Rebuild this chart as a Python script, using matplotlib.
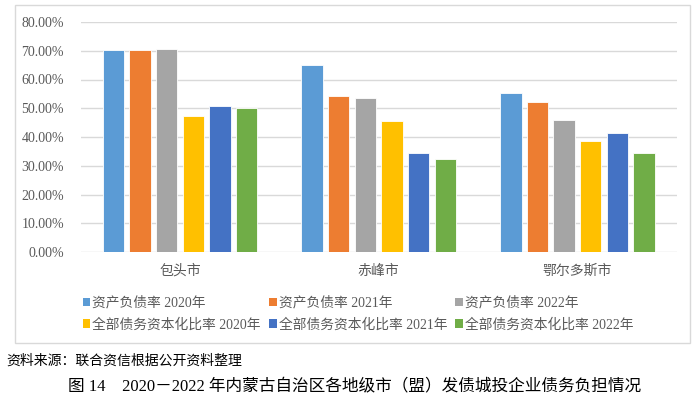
import matplotlib
matplotlib.use('Agg')
import matplotlib.pyplot as plt
from matplotlib.patches import Rectangle, Patch
from matplotlib.ticker import FuncFormatter
import numpy as np

plt.rcParams['font.family'] = ['Liberation Serif', 'Noto Sans CJK SC', 'DejaVu Sans']

# data (ratios)
cities = ['包头市', '赤峰市', '鄂尔多斯市']
series_names = ['资产负债率 2020年', '资产负债率 2021年', '资产负债率 2022年',
                '全部债务资本化比率 2020年', '全部债务资本化比率 2021年', '全部债务资本化比率 2022年']
debt_ratio_2020 = [0.703, 0.652, 0.554]
debt_ratio_2021 = [0.703, 0.544, 0.523]
debt_ratio_2022 = [0.707, 0.535, 0.458]
cap_ratio_2020 = [0.472, 0.457, 0.387]
cap_ratio_2021 = [0.509, 0.343, 0.414]
cap_ratio_2022 = [0.502, 0.325, 0.344]
yticks = [0, 0.1, 0.2, 0.3, 0.4, 0.5, 0.6, 0.7, 0.8]

source_note = '资料来源：联合资信根据公开资料整理'
caption = '图 14\u30002020－2022 年内蒙古自治区各地级市（盟）发债城投企业债务负担情况'

colors = ['#5B9BD5', '#ED7D31', '#A5A5A5', '#FFC000', '#4472C4', '#70AD47']
all_series = [debt_ratio_2020, debt_ratio_2021, debt_ratio_2022,
              cap_ratio_2020, cap_ratio_2021, cap_ratio_2022]

W, H = 700, 398
fig = plt.figure(figsize=(7, 3.98), dpi=100)

# outer chart frame
fig.patches.append(Rectangle((15 / W, 1 - 343 / H), 675 / W, 338 / H,
                             transform=fig.transFigure, fill=False,
                             edgecolor='#D9D9D9', lw=1))

ax = fig.add_axes([80.7 / W, 1 - 252 / H, 596 / W, 230 / H])

x = np.arange(len(cities))
step = 0.134
width = 0.108
for i, (vals, c) in enumerate(zip(all_series, colors)):
    ax.bar(x + (i - 2.5) * step, vals, width, color=c, edgecolor='white',
           linewidth=0.6, zorder=3, label=series_names[i])

ax.set_xlim(-0.5, len(cities) - 0.5)
ax.set_ylim(0, 0.8)
ax.set_yticks(yticks)
ax.yaxis.set_major_formatter(FuncFormatter(lambda v, p: '%.2f%%' % (v * 100)))
ax.set_xticks(x)
ax.set_xticklabels(cities)
ax.tick_params(axis='both', length=0, labelsize=10, colors='#595959')
ax.tick_params(axis='y', pad=12)
ax.tick_params(axis='x', pad=9)
ax.grid(axis='y', color='#D9D9D9', lw=1, zorder=0)
for s in ax.spines.values():
    s.set_visible(False)

# legend is filled column by column, so reorder to read row by row
order = [0, 3, 1, 4, 2, 5]
handles = [Patch(facecolor=colors[i], edgecolor='none') for i in order]
labels = [series_names[i] for i in order]
leg = fig.legend(handles, labels, loc='center', ncol=3,
                 bbox_to_anchor=(358 / W, 1 - 313.7 / H), frameon=False,
                 fontsize=9.9, handlelength=0.55, handleheight=0.55,
                 handletextpad=0.15, columnspacing=0.6, labelspacing=0.6)
for t in leg.get_texts():
    t.set_color('#595959')

fig.text(6 / W, 1 - 360.7 / H, source_note, fontsize=10, va='center', ha='left')
fig.text(355 / W, 1 - 386 / H, caption, fontsize=12, va='center', ha='center')

fig.savefig('out.png', dpi=100)
